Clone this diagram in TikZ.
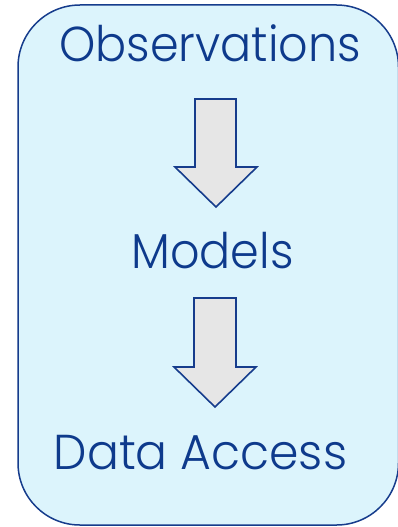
\documentclass[tikz,border=0pt]{standalone}
\usepackage{fontspec}
\setmainfont{Poppins}[UprightFont=* Light]
\definecolor{edgeblue}{RGB}{22,60,140}
\definecolor{textblue}{RGB}{14,58,140}
\definecolor{boxfill}{RGB}{220,244,252}
\definecolor{arrowfill}{RGB}{230,230,230}
\newcommand{\sq}[2][0.94]{\scalebox{#1}[1]{#2}}
\tikzset{
  label text/.style={text=textblue, font=\fontsize{49}{58}\selectfont, inner sep=0pt, anchor=base},
  block arrow/.style={draw=edgeblue, fill=arrowfill, line width=1.6pt, line join=miter}
}
\begin{document}
\begin{tikzpicture}[x=1pt,y=1pt]
\useasboundingbox (0,0) rectangle (398,-527);
\draw[draw=edgeblue, fill=boxfill, line width=1.5pt, rounded corners=62pt] (18,-5) rectangle (398.5,-525);
\node[label text] (obs) at (210,-62) {\sq{Observations}};
\node[label text] (mod) at (212.5,-268) {\sq{Models}};
\node[label text] (data) at (200.5,-469) {\sq[0.965]{Data Access}};
\draw[block arrow] (195,-99) -- (236,-99) -- (236,-167) -- (257,-167) -- (216,-207) -- (175,-167) -- (195,-167) -- cycle;
\draw[block arrow] (194,-298) -- (236,-298) -- (236,-367) -- (256,-367) -- (215,-407) -- (174,-367) -- (194,-367) -- cycle;
\end{tikzpicture}
\end{document}
